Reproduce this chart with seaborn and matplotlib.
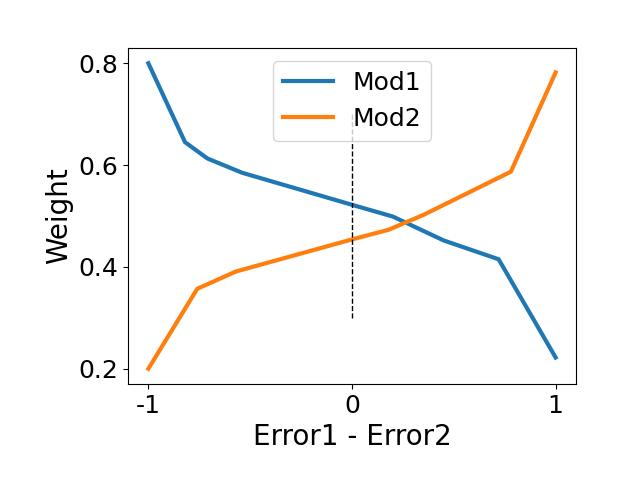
import pandas as pd
import numpy as np
import matplotlib
matplotlib.use('Agg')
import matplotlib.pyplot as plt
import seaborn as sns

# values
mod1_x = [-1.0, -0.82, -0.71, -0.54, 0.0, 0.20, 0.45, 0.72, 1.0]
mod1_w = [0.800, 0.645, 0.613, 0.585, 0.522, 0.499, 0.452, 0.415, 0.222]
mod2_x = [-1.0, -0.76, -0.57, 0.0, 0.18, 0.35, 0.78, 1.0]
mod2_w = [0.200, 0.357, 0.391, 0.454, 0.473, 0.502, 0.587, 0.782]

xtick_vals = [-1, 0, 1]
xtick_labels = ['-1', '0', '1']
split_x = 0
split_lo, split_hi = 0.3, 0.7

df = pd.concat([
    pd.DataFrame({'diff': mod1_x, 'Weight': mod1_w, 'model': 'Mod1'}),
    pd.DataFrame({'diff': mod2_x, 'Weight': mod2_w, 'model': 'Mod2'}),
], ignore_index=True)

fig, ax = plt.subplots(figsize=(6.4, 4.8), dpi=100)
sns.lineplot(data=df, x='diff', y='Weight', hue='model', estimator=None,
             palette=['#1f77b4', '#ff7f0e'], linewidth=3, ax=ax)
ax.vlines(split_x, split_lo, split_hi, colors='black', linestyles='--', linewidth=1)

ax.set_xticks(xtick_vals)
ax.set_xticklabels(xtick_labels)
ax.tick_params(labelsize=18)
ax.set_xlabel('Error1 - Error2', fontsize=20)
ax.set_ylabel('Weight', fontsize=20)
sns.move_legend(ax, 'upper center', title=None, fontsize=18)

fig.subplots_adjust(left=0.2, bottom=0.2, top=0.9, right=0.9)
fig.savefig('out.png', dpi=100)
